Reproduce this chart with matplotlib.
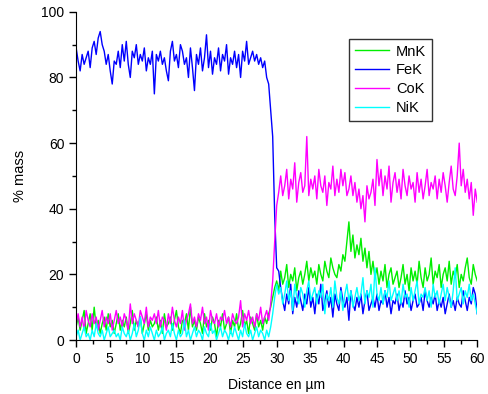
import numpy as np
import matplotlib
matplotlib.use("Agg")
import matplotlib.pyplot as plt
from matplotlib.ticker import MultipleLocator

# distance grid (um), 0.3 um step
distance = np.round(np.arange(0, 60.0001, 0.3), 2)

fe_k = (
    [89, 85, 82, 87, 84, 86, 88, 83, 89, 91, 87, 92, 94, 90, 88, 84, 87, 82, 78, 85]
    + [84, 88, 83, 90, 85, 91, 84, 80, 88, 86, 90, 84, 87, 85, 89, 82, 86, 84, 88, 75]
    + [87, 85, 88, 84, 86, 82, 79, 88, 91, 85, 87, 83, 90, 88, 84, 86, 80, 89, 83, 76]
    + [87, 84, 89, 82, 86, 93, 83, 88, 81, 86, 84, 89, 82, 87, 85, 90, 81, 86, 84, 88]
    + [83, 87, 80, 88, 85, 91, 84, 86, 88, 85, 87, 84, 86, 83, 85, 80, 78, 70]
    + [62, 38, 22, 21]
    + [16, 12, 9, 14, 11, 17, 8, 13, 10, 15, 12, 9, 14, 11, 16, 10, 13, 8]
    + [14, 11, 17, 9, 12, 15, 10, 13, 7, 14, 11, 9, 16, 12, 10, 13, 6, 15, 11, 9]
    + [13, 10, 14, 8, 12, 15, 9, 11, 13, 10, 14, 9, 12, 11, 15, 10, 13, 8, 12, 11]
    + [14, 9, 12, 10, 15, 11, 13, 9, 12, 14, 10, 11, 13, 9, 15, 12, 10, 13, 11, 14]
    + [9, 12, 10, 13, 8, 11, 14, 10, 12, 9, 13, 11, 10, 15, 12, 9, 13, 11, 16, 14, 8]
)

mn_k = (
    [4, 7, 3, 6, 9, 2, 5, 8, 3, 10, 4, 6, 2, 5, 7, 3, 8, 4, 6, 2]
    + [5, 8, 3, 6, 4, 7, 2, 5, 9, 3, 6, 4, 7, 2, 5, 8, 3, 6, 4, 5]
    + [7, 3, 6, 2, 8, 4, 5, 7, 3, 6, 9, 4, 2, 6, 5, 8, 3, 10, 4, 6]
    + [3, 7, 5, 2, 8, 4, 6, 3, 7, 5, 1, 6, 4, 8, 3, 5, 7, 2, 6, 4]
    + [8, 3, 5, 9, 4, 6, 2, 7, 5, 3, 8, 4, 6, 3, 7, 5, 8, 10]
    + [13, 16, 18, 15]
    + [21, 17, 19, 23, 16, 20, 18, 22, 15, 19, 21, 17, 20, 24, 18, 22, 19, 21]
    + [17, 23, 20, 18, 24, 21, 19, 25, 22, 20, 19, 23, 21, 26, 24, 30, 36, 27, 32, 25]
    + [29, 26, 31, 24, 28, 22, 27, 20, 24, 19, 22, 17, 21, 18, 23, 16, 20, 22, 17, 19]
    + [21, 16, 19, 23, 17, 20, 15, 22, 18, 21, 17, 24, 19, 16, 22, 18, 20, 25, 17, 21]
    + [19, 23, 16, 20, 22, 18, 24, 17, 21, 19, 23, 16, 20, 18, 22, 25, 19, 17, 23, 20, 18]
)

co_k = (
    [5, 8, 4, 7, 3, 9, 6, 4, 8, 5, 7, 3, 6, 9, 4, 7, 5, 8, 3, 6]
    + [9, 5, 7, 4, 8, 6, 3, 11, 5, 8, 6, 4, 9, 7, 5, 10, 4, 7, 6, 8]
    + [5, 9, 4, 7, 6, 3, 8, 5, 10, 6, 4, 7, 5, 9, 3, 6, 8, 11, 5, 7]
    + [4, 8, 6, 10, 5, 7, 3, 9, 6, 5, 8, 4, 7, 6, 9, 5, 7, 4, 8, 6]
    + [5, 7, 12, 4, 8, 6, 9, 5, 7, 4, 8, 6, 10, 5, 7, 9, 6, 11]
    + [18, 30, 41, 45]
    + [50, 44, 47, 52, 43, 49, 46, 54, 42, 48, 51, 45, 47, 62, 44, 49, 46, 50]
    + [43, 52, 47, 45, 50, 41, 48, 46, 53, 44, 49, 45, 52, 47, 51, 44, 46, 50, 44, 48]
    + [42, 46, 40, 44, 36, 47, 43, 45, 49, 41, 55, 47, 52, 44, 50, 46, 53, 42, 48, 51]
    + [45, 49, 43, 52, 47, 44, 50, 46, 48, 42, 51, 45, 49, 43, 47, 52, 44, 48, 46, 50]
    + [43, 49, 45, 51, 47, 42, 48, 53, 46, 44, 50, 60, 47, 52, 45, 49, 43, 48, 38, 46, 42]
)

ni_k = (
    [1, 3, 0, 2, 4, 1, 2, 0, 3, 1, 5, 2, 1, 3, 0, 2, 4, 1, 2, 3]
    + [1, 2, 0, 4, 2, 1, 3, 0, 2, 5, 1, 3, 7, 2, 0, 3, 1, 4, 2, 0]
    + [3, 1, 2, 4, 0, 2, 3, 1, 5, 2, 0, 3, 1, 2, 6, 1, 3, 0, 2, 4]
    + [1, 3, 2, 0, 4, 2, 1, 5, 2, 3, 0, 2, 4, 1, 3, 2, 0, 3, 1, 4]
    + [2, 0, 3, 1, 5, 2, 1, 3, 0, 2, 4, 1, 3, 2, 0, 3, 1, 4]
    + [8, 13, 17, 14]
    + [16, 11, 14, 18, 12, 15, 9, 17, 13, 11, 16, 14, 10, 15, 18, 12, 14, 16]
    + [11, 15, 13, 17, 8, 14, 12, 16, 10, 18, 13, 11, 15, 9, 14, 17, 12, 15, 10, 13]
    + [16, 12, 14, 19, 11, 15, 13, 17, 10, 22, 14, 12, 16, 11, 15, 13, 18, 12, 14, 16]
    + [12, 15, 11, 17, 13, 14, 10, 16, 12, 15, 18, 11, 14, 13, 16, 12, 15, 10, 17, 13]
    + [15, 11, 14, 17, 12, 16, 13, 10, 15, 22, 12, 14, 16, 11, 15, 13, 17, 12, 14, 11, 8]
)

series = [("MnK", mn_k, "#00ee00"), ("FeK", fe_k, "#0000ff"),
          ("CoK", co_k, "#ff00ff"), ("NiK", ni_k, "#00ffff")]

plt.rcParams["font.family"] = ["Liberation Sans", "DejaVu Sans"]
plt.rcParams["font.size"] = 10

fig = plt.figure(figsize=(4.88, 3.94), dpi=100)
ax = fig.add_axes([0.156, 0.137, 0.822, 0.833])

for name, vals, col in series:
    ax.plot(distance, vals, color=col, lw=1.0, label=name)

ax.set_xlim(0, 60)
ax.set_ylim(0, 100)
ax.xaxis.set_major_locator(MultipleLocator(5))
ax.xaxis.set_minor_locator(MultipleLocator(2.5))
ax.yaxis.set_major_locator(MultipleLocator(20))
ax.yaxis.set_minor_locator(MultipleLocator(10))
ax.tick_params(which="major", direction="out", length=5, width=1, labelsize=10)
ax.tick_params(which="minor", direction="out", length=3, width=1)
ax.spines["top"].set_visible(False)
ax.spines["right"].set_visible(False)
ax.set_xlabel("Distance en µm", fontsize=10, labelpad=9)
ax.set_ylabel("% mass", fontsize=10.5, labelpad=10)

leg = ax.legend(loc="upper left", bbox_to_anchor=(0.681, 0.918), frameon=True,
                fancybox=False, edgecolor="black", fontsize=10.5,
                handlelength=2.3, labelspacing=0.33, borderpad=0.4,
                handletextpad=0.5, borderaxespad=0)
leg.get_frame().set_linewidth(1.0)

fig.savefig("out.png", dpi=100)
